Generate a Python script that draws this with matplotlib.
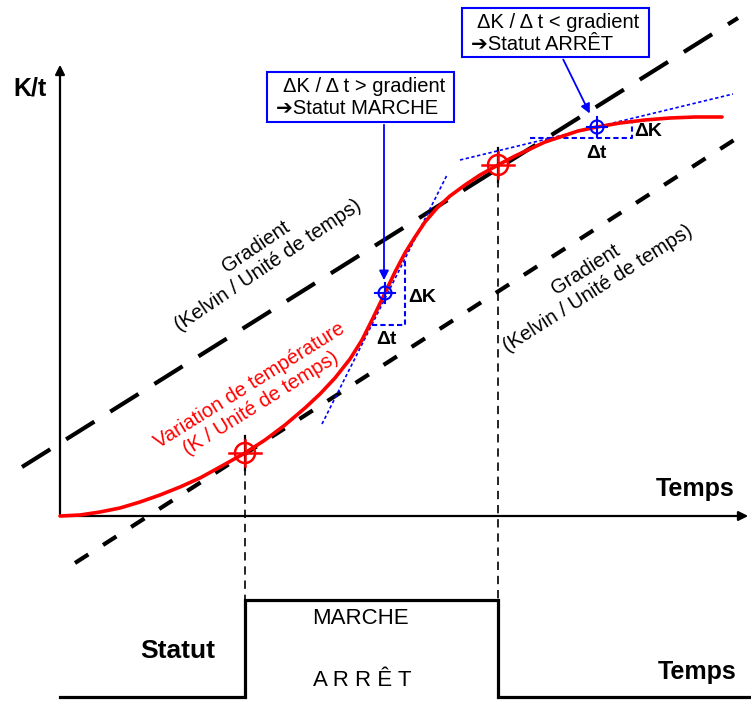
import matplotlib.pyplot as plt
from matplotlib.patches import Rectangle, Circle

plt.rcParams['font.family'] = ['Liberation Sans', 'DejaVu Sans']

# diagram is laid out in pixel units of the reference picture (y grows downwards)
curve_x = [60, 80, 100, 120, 140, 160, 180, 200, 220, 245, 265, 285, 305, 320, 335, 350, 362, 373,
           385, 395, 405, 415, 425, 437, 450, 465, 480, 498, 515, 530, 545, 560, 578, 597, 620,
           645, 670, 695, 722]
curve_y = [516, 515, 512, 508, 502, 495, 487, 478, 467, 453, 440, 425, 408, 394, 378, 359, 340, 318,
           293, 272, 253, 237, 222, 208, 196, 185, 175, 165, 156, 149, 142, 137, 131, 127, 123,
           120, 118, 117, 117]

grad_hi_x = [22, 738]
grad_hi_y = [467, 18]
grad_lo_x = [75, 745]
grad_lo_y = [563, 133]

on_x, off_x = 245, 498          # where status switches
on_y, off_y = 453, 165
status_x = [60, 245, 245, 498, 498, 751]
status_y = [697, 697, 600, 600, 697, 697]

tan1_x = [322, 447]
tan1_y = [424, 175]
tan2_x = [460, 733]
tan2_y = [160, 94]
pt1 = (385, 293)
pt2 = (597, 127)

fig = plt.figure(figsize=(7.51, 7.02), dpi=100)
ax = fig.add_axes([0, 0, 1, 1])
ax.set_xlim(0, 751)
ax.set_ylim(702, 0)
ax.axis('off')

# axes
ax.annotate('', xy=(60, 62), xytext=(60, 517),
            arrowprops=dict(arrowstyle='-|>', lw=1.6, color='black', mutation_scale=14))
ax.annotate('', xy=(751, 516), xytext=(59, 516),
            arrowprops=dict(arrowstyle='-|>', lw=1.6, color='black', mutation_scale=14))
ax.text(30, 88, 'K/t', fontsize=18, fontweight='bold', ha='center', va='center')
ax.text(695, 489, 'Temps', fontsize=18, fontweight='bold', ha='center', va='center')

# gradient lines
ax.plot(grad_hi_x, grad_hi_y, color='black', lw=3, dashes=(8, 4.5), solid_capstyle='butt')
ax.plot(grad_lo_x, grad_lo_y, color='black', lw=3, dashes=(3.8, 4.2), solid_capstyle='butt')

# vertical guides
ax.plot([on_x, on_x], [on_y, 697], color='black', lw=1.2, dashes=(5, 3.5))
ax.plot([off_x, off_x], [off_y, 600], color='black', lw=1.2, dashes=(5, 3.5))

# tangents and deltas
ax.plot(tan1_x, tan1_y, color='blue', lw=1.2, dashes=(2, 1.5))
ax.plot(tan2_x, tan2_y, color='blue', lw=1.2, dashes=(2, 1.5))
ax.plot([372, 405, 405], [325, 325, 260], color='blue', lw=1.5, dashes=(2.5, 1.5))
ax.plot([530, 632, 632], [138, 138, 120], color='blue', lw=1.5, dashes=(2.5, 1.5))
ax.text(408, 297, 'ΔK', fontsize=14, fontweight='bold', ha='left', va='center')
ax.text(386, 340, 'Δt', fontsize=14, fontweight='bold', ha='center', va='center')
ax.text(634, 131, 'ΔK', fontsize=14, fontweight='bold', ha='left', va='center')
ax.text(596, 153, 'Δt', fontsize=14, fontweight='bold', ha='center', va='center')

# temperature curve
ax.plot(curve_x, curve_y, color='red', lw=2.6, solid_capstyle='round',
        solid_joinstyle='round', zorder=5)

# red switch markers
for mx, my in [(on_x, on_y), (off_x, off_y)]:
    ax.plot([mx, mx], [my - 17, my + 17], color='black', lw=1.6, zorder=6)
    ax.add_patch(Circle((mx, my), 10, fill=False, ec='red', lw=1.8, zorder=7))
    ax.plot([mx - 16, mx + 16], [my, my], color='red', lw=1.8, zorder=7)
    ax.plot([mx, mx], [my - 13, my + 13], color='red', lw=1.8, zorder=7)

# blue points
for mx, my in [pt1, pt2]:
    ax.add_patch(Circle((mx, my), 6.5, fill=False, ec='blue', lw=1.5, zorder=8))
    ax.plot([mx - 10, mx + 10], [my, my], color='blue', lw=1.5, zorder=8)
    ax.plot([mx, mx], [my - 10, my + 10], color='blue', lw=1.5, zorder=8)

# rotated labels
ax.text(262, 256, 'Gradient\n(Kelvin / Unité de temps)', fontsize=14.5, rotation=34,
        ha='center', va='center', multialignment='center', linespacing=1.2)
ax.text(592, 279, 'Gradient\n(Kelvin / Unité de temps)', fontsize=14.5, rotation=32.5,
        ha='center', va='center', multialignment='center', linespacing=1.2)
ax.text(255, 394, 'Variation de température\n(K / Unité de temps)', fontsize=14.5, rotation=32,
        ha='center', va='center', multialignment='center', color='red', linespacing=1.15)

# callout boxes
ax.add_patch(Rectangle((267, 72), 187, 50, fill=False, ec='blue', lw=1.5))
ax.text(283, 86, 'ΔK / Δ t > gradient', fontsize=14.5, ha='left', va='center')
ax.text(276, 109, '➔Statut MARCHE', fontsize=14.5, ha='left', va='center')
ax.annotate('', xy=(384, 283), xytext=(384, 122),
            arrowprops=dict(arrowstyle='-|>', lw=1.3, color='blue', mutation_scale=14))

ax.add_patch(Rectangle((462, 8), 187, 49, fill=False, ec='blue', lw=1.5))
ax.text(477, 22, 'ΔK / Δ t < gradient', fontsize=14.5, ha='left', va='center')
ax.text(471, 45, '➔Statut ARRÊT', fontsize=14.5, ha='left', va='center')
ax.annotate('', xy=(591, 116), xytext=(562, 57),
            arrowprops=dict(arrowstyle='-|>', lw=1.3, color='blue', mutation_scale=14))

# status signal
ax.plot(status_x, status_y, color='black', lw=2.3, solid_joinstyle='miter')
ax.text(178, 651, 'Statut', fontsize=19, fontweight='bold', ha='center', va='center')
ax.text(360, 618, 'MARCHE', fontsize=16, ha='center', va='center')
ax.text(362, 681, 'A R R Ê T', fontsize=16, ha='center', va='center')
ax.text(697, 672, 'Temps', fontsize=18, fontweight='bold', ha='center', va='center')

fig.savefig('out.png', dpi=100)
